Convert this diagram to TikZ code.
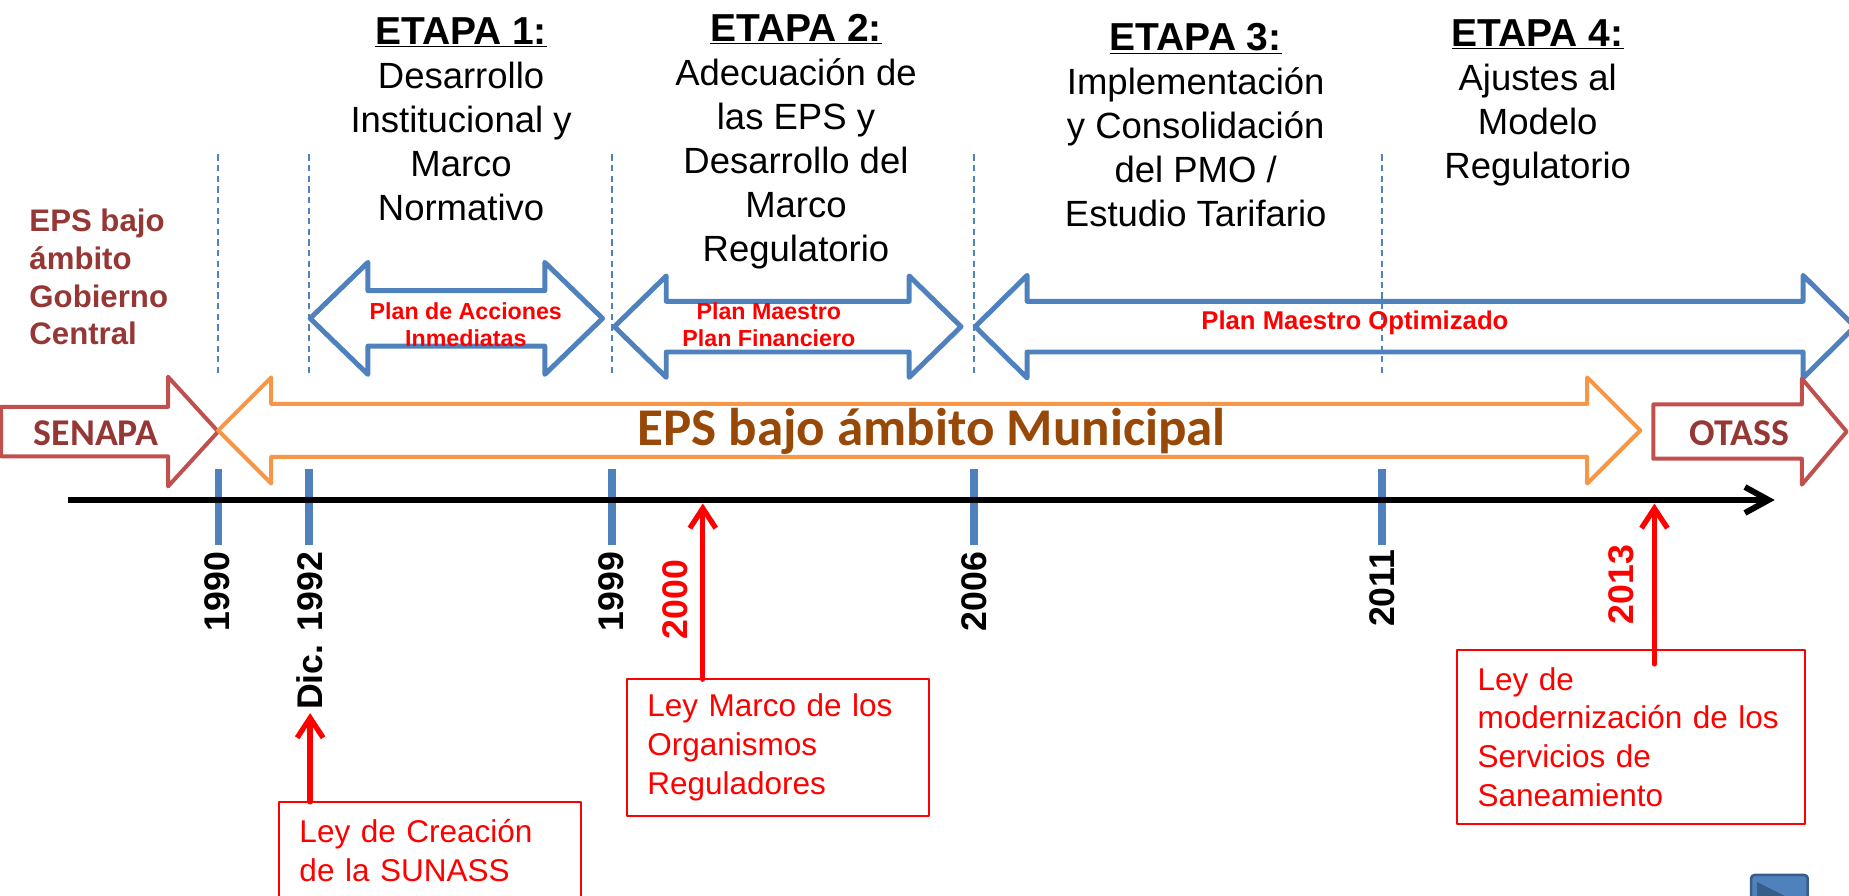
\documentclass[tikz,border=0pt]{standalone}
\usepackage{fontspec}
\setmainfont{Liberation Sans}
\newfontfamily\calibri{Carlito}
\usetikzlibrary{
    arrows.meta,
    positioning
}
\definecolor{stageblue}{HTML}{4F81BD}
\definecolor{navblue}{HTML}{385D8A}
\definecolor{eraorange}{HTML}{F79646}
\definecolor{erared}{HTML}{C0504D}
\definecolor{eratext}{HTML}{953735}
\definecolor{munibrown}{HTML}{984807}
\tikzset{
    every picture/.style = {
        x = 0.025cm,
        y = -0.025cm,
        line join = round,
        > = {Straight Barb[length = 0.42cm, width = 0.55cm]}
    },
    every node/.style = {
        inner sep = 0pt,
        outer sep = 0pt
    },
    etapa/.style = {
        align = center,
        font = \fontsize{22}{26.5}\selectfont
    },
    plan/.style = {
        align = center,
        text = red,
        font = \fontsize{14}{16.3}\selectfont\bfseries
    },
    plan arrow/.style = {stageblue, line width = 3pt},
    era/.style = {
        text = eratext,
        font = \fontsize{22.8}{25}\selectfont\calibri\bfseries
    },
    era arrow/.style = {line width = 2.4pt},
    year/.style = {
        rotate = 90,
        anchor = east,
        font = \fontsize{21.5}{24}\selectfont\bfseries
    },
    ley/.style = {
        draw = red,
        line width = 1.2pt,
        text = red,
        align = left,
        inner xsep = 0.425cm,
        font = \fontsize{19}{23.4}\selectfont
    },
    yeartick/.style = {stageblue, line width = 4.4pt},
    stageline/.style = {stageblue, line width = 0.9pt, dash pattern = on 3.8pt off 2.6pt},
    hito/.style = {red, line width = 3.2pt, line cap = round, ->}
}
\newcommand{\etapahead}[1]{{\fontsize{23.5}{26.5}\selectfont\bfseries\underline{ETAPA #1:}}}
% left tip, right tip, y middle, half body, half head, head length
\newcommand{\dblarrow}[7]{%
    \draw[#1] (#2, #4) -- ({#2 + #7}, {#4 - #6}) -- ({#2 + #7}, {#4 - #5})
        -- ({#3 - #7}, {#4 - #5}) -- ({#3 - #7}, {#4 - #6}) -- (#3, #4)
        -- ({#3 - #7}, {#4 + #6}) -- ({#3 - #7}, {#4 + #5})
        -- ({#2 + #7}, {#4 + #5}) -- ({#2 + #7}, {#4 + #6}) -- cycle;
}
% tail, tip, y middle, half body, half head, head length
\newcommand{\onearrow}[7]{%
    \draw[#1] (#2, {#4 - #5}) -- ({#3 - #7}, {#4 - #5}) -- ({#3 - #7}, {#4 - #6}) -- (#3, #4)
        -- ({#3 - #7}, {#4 + #6}) -- ({#3 - #7}, {#4 + #5}) -- (#2, {#4 + #5}) -- cycle;
}

\begin{document}
\begin{tikzpicture}
    \useasboundingbox (0, 0) rectangle (1568, 759);

    \node[etapa] (etapa1) at (391, 101) {\etapahead{1} \\ Desarrollo \\ Institucional y \\ Marco \\ Normativo};
    \node[etapa] (etapa2) at (675, 120) {\etapahead{2} \\ Adecuación de \\ las EPS y \\ Desarrollo del \\ Marco \\ Regulatorio};
    \node[etapa] (etapa3) at (1014, 106) {\etapahead{3} \\ Implementación \\ y Consolidación \\ del PMO / \\ Estudio Tarifario};
    \node[etapa] (etapa4) at (1304, 87) {\etapahead{4} \\ Ajustes al \\ Modelo \\ Regulatorio};

    \node[anchor = west, align = left, text = eratext, font = \fontsize{18.8}{22.7}\selectfont\bfseries] (central) at (25, 235) {EPS bajo \\ ámbito \\ Gobierno \\ Central};

    % cortes entre etapas
    \draw[stageline] (185, 131) -- (185, 318);
    \draw[stageline] (262, 131) -- (262, 318);
    \draw[stageline] (519, 131) -- (519, 318);
    \draw[stageline] (826, 131) -- (826, 318);
    \draw[stageline] (1172, 131) -- (1172, 318);

    % planes
    \dblarrow{plan arrow}{263}{511}{270}{23.5}{47.5}{49}
    \dblarrow{plan arrow}{521}{815}{277}{21.5}{43}{44}
    \dblarrow{plan arrow}{827}{1573}{277}{21.5}{43.5}{44}
    \node[plan] (acciones) at (395, 275.5) {Plan de Acciones \\ Inmediatas};
    \node[plan] (maestro) at (652, 275.5) {Plan Maestro \\ Plan Financiero};
    \node[plan, font = \fontsize{15.5}{18}\selectfont\bfseries] (optimizado) at (1149, 274) {Plan Maestro Optimizado};

    % ambitos
    \onearrow{era arrow, erared}{1}{185}{366}{21}{46.5}{42.5}
    \dblarrow{era arrow, eraorange}{185}{1391}{365}{22.5}{45}{45}
    \onearrow{era arrow, erared}{1402}{1566}{366}{23}{45}{38}
    \node[era] (senapa) at (81.5, 367) {SENAPA};
    \node[era] (otass) at (1475, 367) {OTASS};
    \node[text = munibrown, font = \fontsize{32}{36}\selectfont\calibri\bfseries] (municipal) at (790, 366) {EPS bajo ámbito Municipal};

    % linea de tiempo
    \draw[yeartick] (185, 398) -- (185, 462);
    \draw[yeartick] (262, 398) -- (262, 462);
    \draw[yeartick] (519, 398) -- (519, 462);
    \draw[yeartick] (826, 398) -- (826, 462);
    \draw[yeartick] (1172, 398) -- (1172, 462);
    \coordinate (inicio) at (58, 424);
    \coordinate (fin) at (1505, 424);
    \draw[line width = 3.6pt, -{Straight Barb[length = 0.5cm, width = 0.55cm]}] (inicio) -- (fin);

    \node[year] (y1990) at (184, 468) {1990};
    \node[year] (y1992) at (263, 468) {Dic. 1992};
    \node[year] (y1999) at (518.5, 468) {1999};
    \node[year, text = red] (y2000) at (573, 475) {2000};
    \node[year] (y2006) at (826, 468) {2006};
    \node[year] (y2011) at (1172, 466) {2011};
    \node[year, text = red] (y2013) at (1375, 462) {2013};

    % leyes
    \node[ley, text width = 5.55cm, minimum height = 2.05cm] (ley1) at (365, 721) {Ley de Creación \\ de la SUNASS};
    \node[ley, text width = 5.55cm, minimum height = 2.9cm] (ley2) at (660, 634) {Ley Marco de los \\ Organismos \\ Reguladores};
    \node[ley, text width = 6.525cm, minimum height = 3.7cm] (ley3) at (1383.5, 625) {Ley de \\ modernización de los \\ Servicios de \\ Saneamiento};

    \coordinate (hito2000) at (596, 427);
    \coordinate (hito2013) at (1403, 427);
    \coordinate (pie2013) at (1403, 563);
    \draw[hito] (ley1.north -| y1992.west) -- ([yshift = -2pt]y1992.west);
    \draw[hito] (ley2.north -| hito2000) -- (hito2000);
    \draw[hito] (pie2013) -- (hito2013);

    % boton
    \draw[navblue, fill = stageblue, line width = 1.5pt, rounded corners = 2pt] (1485, 742) rectangle (1533, 790);
    \fill[navblue] (1490, 748) -- (1522, 764) -- (1490, 780) -- cycle;
\end{tikzpicture}
\end{document}
